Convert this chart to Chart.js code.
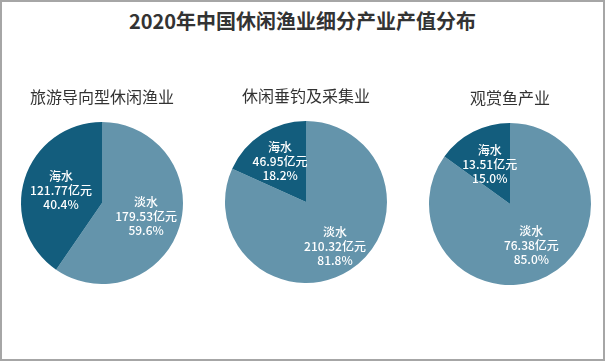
<!DOCTYPE html>
<html>
<head>
<meta charset="utf-8">
<script src="https://cdn.jsdelivr.net/npm/chart.js@4.4.1/dist/chart.umd.min.js"></script>
<style>
  html, body { margin: 0; padding: 0; background: #fff; }
  #frame { position: absolute; left: 0; top: 0; width: 605px; height: 361px; box-sizing: border-box; border: 2px solid #a6a6a6; background: #fff; }
  #mainTitle { position: absolute; left: 0; width: 605px; top: 7px; text-align: center; white-space: nowrap; font: bold 20px "Noto Sans CJK SC", sans-serif; color: #333; line-height: 28px; }
  .pie { position: absolute; width: 200px; height: 204px; }
</style>
</head>
<body>
<div id="frame"></div>
<div id="mainTitle"></div>
<div class="pie" style="left:2px;top:80px"><canvas id="c0" width="200" height="204"></canvas></div>
<div class="pie" style="left:206px;top:79px"><canvas id="c1" width="200" height="204"></canvas></div>
<div class="pie" style="left:410px;top:81px"><canvas id="c2" width="200" height="204"></canvas></div>
<script>
const mainTitle = '2020年中国休闲渔业细分产业产值分布';
const categories = ['淡水', '海水'];
const panelTitles = ['旅游导向型休闲渔业', '休闲垂钓及采集业', '观赏鱼产业'];
const tourismValues = [179.53, 121.77];
const fishingValues = [210.32, 46.95];
const ornamentalValues = [76.38, 13.51];
const unit = '亿元';

document.getElementById('mainTitle').textContent = mainTitle;

const colors = ['#6494ab', '#135d7d'];
const labelRatios = [[0.57, 0.53], [0.66, 0.59], [0.58, 0.55]];

const pieLabels = {
  id: 'pieLabels',
  afterDatasetsDraw(chart, args, opts) {
    const ctx = chart.ctx;
    const ds = chart.data.datasets[0];
    const total = ds.data.reduce((a, b) => a + b, 0);
    const meta = chart.getDatasetMeta(0);
    ctx.save();
    ctx.fillStyle = '#ffffff';
    ctx.font = '500 12px "Noto Sans CJK SC", sans-serif';
    ctx.textAlign = 'center';
    ctx.textBaseline = 'middle';
    meta.data.forEach((arc, i) => {
      const p = arc.getProps(['x', 'y', 'startAngle', 'endAngle', 'outerRadius'], true);
      const mid = (p.startAngle + p.endAngle) / 2;
      const rr = p.outerRadius * opts.ratios[i];
      const cx = p.x + Math.cos(mid) * rr;
      const cy = p.y + Math.sin(mid) * rr;
      const v = ds.data[i];
      const lines = [chart.data.labels[i], v.toFixed(2) + unit, (v / total * 100).toFixed(1) + '%'];
      lines.forEach((t, k) => ctx.fillText(t, cx, cy + (k - 1) * 14));
    });
    ctx.restore();
  }
};

function makePie(id, values, title, ratios) {
  new Chart(document.getElementById(id), {
    type: 'pie',
    data: {
      labels: categories,
      datasets: [{ data: values, backgroundColor: colors, borderWidth: 0, hoverOffset: 0 }]
    },
    options: {
      responsive: false,
      animation: false,
      events: [],
      layout: { padding: 0 },
      plugins: {
        legend: { display: false },
        tooltip: { enabled: false },
        title: {
          display: true,
          text: title,
          color: '#333',
          font: { family: '"Noto Sans CJK SC", sans-serif', size: 16, weight: 'normal', lineHeight: 1.2 },
          padding: { top: 7.4, bottom: 15.4 }
        },
        pieLabels: { ratios: ratios }
      }
    },
    plugins: [pieLabels]
  });
}

makePie('c0', tourismValues, panelTitles[0], labelRatios[0]);
makePie('c1', fishingValues, panelTitles[1], labelRatios[1]);
makePie('c2', ornamentalValues, panelTitles[2], labelRatios[2]);
</script>
</body>
</html>
